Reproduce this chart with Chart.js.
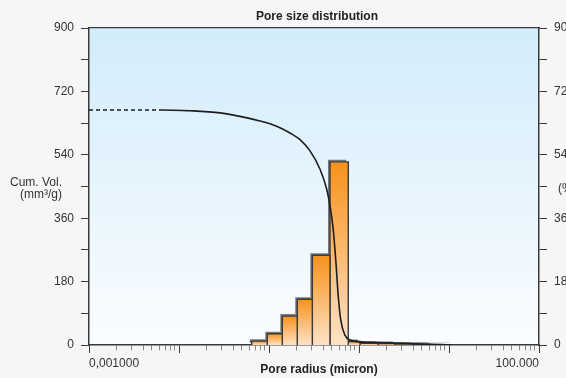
<!DOCTYPE html>
<html><head><meta charset="utf-8">
<script src="https://cdn.jsdelivr.net/npm/chart.js@4.4.1/dist/chart.umd.min.js"></script>
<style>
html,body{margin:0;padding:0;background:#f6f6f6;overflow:hidden;width:566px;height:378px;}
#wrap{position:absolute;left:0;top:0;width:634px;height:378px;}
.lbl{position:absolute;font-family:"Liberation Sans",Arial,sans-serif;font-size:12px;color:#333;line-height:12px;white-space:nowrap;}
</style></head><body>
<div id="wrap"><canvas id="c"></canvas></div>
<div class="lbl" style="left:0;width:62px;text-align:right;top:176px">Cum. Vol.<br>(mm³/g)</div>
<div class="lbl" style="left:558px;top:182px">(%)</div>
<script>
// ---- data ----
const curveRadius = [0.00664, 0.01325, 0.0286, 0.0476, 0.0794, 0.1026, 0.1325, 0.171, 0.221, 0.2856, 0.369, 0.4377, 0.4766, 0.5176, 0.5546, 0.5888, 0.6267, 0.698, 0.794, 1.026, 1.6, 2.8, 5.0, 10.8];
const cumVolume   = [667, 665, 659, 649, 636, 628, 617, 602, 583, 551, 499, 442, 395, 327, 233, 137, 71, 28, 14, 9, 7, 5, 3, 0];
const dashedRadius = [0.001, 0.00664];
const dashedVolume = [667, 667];
const binEdges  = [0.0643, 0.0957, 0.1406, 0.206, 0.303, 0.476, 0.760, 1.026, 1.626, 2.51, 3.88, 6.15, 10.8];
const binVolume = [11, 32, 82, 130, 255, 520, 10, 5, 4, 3, 2, 1];
const yTicks  = [0, 90, 180, 270, 360, 450, 540, 630, 720, 810, 900];
const yLabels = ['0', '', '180', '', '360', '', '540', '', '720', '', '900'];
const xDecades = [0.001, 0.01, 0.1, 1, 10];
const xMultipliers = [1, 2, 3, 4, 5, 6, 7, 8, 9];
const xMax = 100;
const xLabels = ['0,001000', '100.000'];

// ---- build ----
const xTicks = [];
xDecades.forEach(d => xMultipliers.forEach(m => xTicks.push(Number((m * d).toPrecision(6)))));
xTicks.push(xMax);
const isMajor = v => Math.abs(Math.log10(v) - Math.round(Math.log10(v))) < 1e-6;
const FONT = '"Liberation Sans", Arial, sans-serif';
const DARK = '#3a3a3a';

function barGradient(chart, v) {
  if (!chart.chartArea || !chart.scales.y) return '#f7931e';
  const ys = chart.scales.y;
  const t = ys.getPixelForValue(v), b = ys.getPixelForValue(0);
  const g = chart.ctx.createLinearGradient(0, t, 0, Math.max(b, t + 1));
  g.addColorStop(0, '#f7921c');
  g.addColorStop(1, '#fee2c6');
  return g;
}

const barSets = binVolume.map((v, i) => ({
  type: 'line', label: 'bin' + i, order: 10 + i, isBar: true,
  data: [{x: binEdges[i], y: 0}, {x: binEdges[i], y: v}, {x: binEdges[i + 1], y: v}, {x: binEdges[i + 1], y: 0}],
  borderColor: DARK, borderWidth: 1.4, pointRadius: 0, tension: 0, fill: 'shape',
  backgroundColor: ctx => barGradient(ctx.chart, v)
}));

const curveSets = [
  { type: 'line', label: 'cum', order: 0,
    data: curveRadius.map((r, i) => ({x: r, y: cumVolume[i]})),
    borderColor: '#1e1e1e', borderWidth: 1.6, pointRadius: 0, fill: false, cubicInterpolationMode: 'monotone' },
  { type: 'line', label: 'cumDash', order: 1,
    data: dashedRadius.map((r, i) => ({x: r, y: dashedVolume[i]})),
    borderColor: '#1e1e1e', borderWidth: 1.4, borderDash: [4, 3], pointRadius: 0, fill: false }
];

const bgPlugin = {
  id: 'plotBg',
  beforeDraw(chart) {
    const {ctx, chartArea: a} = chart;
    if (!a) return;
    const g = ctx.createLinearGradient(0, a.top, 0, a.bottom);
    g.addColorStop(0, '#d2ecfb');
    g.addColorStop(1, '#fbfdff');
    ctx.save(); ctx.fillStyle = g;
    ctx.fillRect(a.left, a.top, a.right - a.left, a.bottom - a.top);
    ctx.restore();
  }
};
// shadow only for the bar fills (filler draws them just before each dataset)
const shadowOn = c => { c.shadowColor = 'rgba(80,80,80,0.75)'; c.shadowOffsetX = -2; c.shadowOffsetY = -2; c.shadowBlur = 0.5; };
const shadowOff = c => { c.shadowColor = 'rgba(0,0,0,0)'; };
const shadowPlugin = {
  id: 'barShadow',
  beforeDatasetsDraw(chart) { chart.ctx.save(); shadowOn(chart.ctx); },
  beforeDatasetDraw(chart) { shadowOff(chart.ctx); },
  afterDatasetDraw(chart) { shadowOn(chart.ctx); },
  afterDatasetsDraw(chart) { chart.ctx.restore(); }
};

const yAxis = (pos, w) => ({
  type: 'linear', position: pos, min: 0, max: 900, z: 1,
  afterBuildTicks: s => { s.ticks = yTicks.map(v => ({value: v})); },
  afterFit: s => { s.width = w; },
  ticks: { autoSkip: false, padding: 7, color: '#333', font: {family: FONT, size: 12},
    callback: (v, i) => yLabels[i] },
  grid: { drawOnChartArea: false, drawTicks: true, tickLength: 8, tickColor: DARK, tickWidth: 1 },
  border: { display: true, color: DARK, width: 1.5 }
});

new Chart(document.getElementById('c'), {
  type: 'line',
  data: { datasets: [...curveSets, ...barSets] },
  options: {
    responsive: true, maintainAspectRatio: false, animation: false, devicePixelRatio: 1,
    layout: { padding: 0 },
    plugins: {
      legend: { display: false }, tooltip: { enabled: false },
      title: { display: true, text: 'Pore size distribution', color: '#222',
        font: {family: FONT, size: 12, weight: 'bold'}, padding: {top: 9.3, bottom: 4.3} }
    },
    scales: {
      x: {
        type: 'logarithmic', position: 'bottom', min: xTicks[0], max: xMax, z: 1,
        afterBuildTicks: s => { s.ticks = xTicks.map(v => ({value: v})); },
        afterFit: s => { s.height = 33; },
        ticks: { autoSkip: false, maxRotation: 0, minRotation: 0, align: 'inner', padding: 3, color: '#333',
          font: {family: FONT, size: 12},
          callback: (v, i, t) => i === 0 ? xLabels[0] : (i === t.length - 1 ? xLabels[1] : '') },
        grid: { drawOnChartArea: false, drawTicks: true, tickLength: 8, tickWidth: 1,
          tickColor: c => (c.tick && !isMajor(c.tick.value)) ? '#8a8a8a' : DARK,
          tickBorderDash: c => (c.tick && !isMajor(c.tick.value)) ? [5, 20] : [] },
        border: { display: true, color: DARK, width: 1.5 },
        title: { display: true, text: '   Pore radius (micron)', color: '#222',
          font: {family: FONT, size: 12, weight: 'bold'}, padding: {top: 0, bottom: 1} }
      },
      xTop: {
        type: 'linear', position: 'top', min: 0, max: 1,
        afterFit: s => { s.height = 0; },
        ticks: { display: false },
        grid: { drawOnChartArea: false, drawTicks: false },
        border: { display: true, color: DARK, width: 1.3 }
      },
      y: yAxis('left', 89),
      y2: yAxis('right', 95)
    }
  },
  plugins: [bgPlugin, shadowPlugin]
});
</script>
</body></html>
